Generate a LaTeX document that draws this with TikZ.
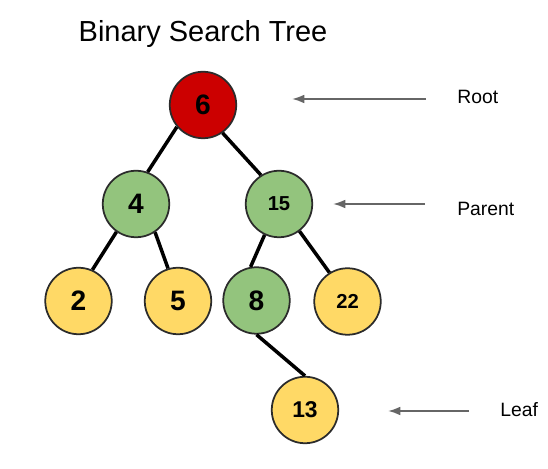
\documentclass[tikz,border=0pt]{standalone}
\usepackage{fontspec}
\setmainfont{Liberation Sans}
\usetikzlibrary{arrows.meta}

\definecolor{rootred}{HTML}{CC0000}
\definecolor{innergreen}{HTML}{93C47D}
\definecolor{leafyellow}{HTML}{FFD966}
\definecolor{rimgray}{HTML}{2B2B2B}
\definecolor{pointergray}{HTML}{666666}

\begin{document}
\begin{tikzpicture}[x=0.02cm, y=-0.02cm,
    vertex/.style={circle, draw=rimgray, line width=1pt, minimum size=1.33cm, inner sep=0pt, font=\bfseries\fontsize{16}{16}\selectfont},
    smalldigits/.style={font=\bfseries\fontsize{11.5}{11.5}\selectfont},
    branch/.style={line width=2pt},
    pointer/.style={draw=pointergray, line width=1.1pt, -{Latex[length=7pt,width=5pt]}},
    sidelabel/.style={anchor=base west, inner sep=0pt, font=\fontsize{11}{11}\selectfont}]
        \useasboundingbox (0, 0) rectangle (548, 469);
        \node[anchor=base, inner sep=0pt, font=\fontsize{16.5}{16.5}\selectfont] (title) at (203, 42) {Binary Search Tree};

        \node[vertex, fill=rootred] (n6) at (203, 105) {6};
        \node[vertex, fill=innergreen] (n4) at (136, 204) {4};
        \node[vertex, fill=innergreen, smalldigits] (n15) at (279, 204) {15};
        \node[vertex, fill=leafyellow] (n2) at (78.5, 301) {2};
        \node[vertex, fill=leafyellow] (n5) at (178, 301) {5};
        \node[vertex, fill=innergreen] (n8) at (256.5, 300.5) {8};
        \node[vertex, fill=leafyellow, smalldigits] (n22) at (347.5, 301.5) {22};
        \node[vertex, fill=leafyellow, font=\bfseries\fontsize{13}{13}\selectfont] (n13) at (305, 410) {13};

        \draw[branch] (n6.220) -- (n4.70);
        \draw[branch] (n6.305) -- (n15.122);
        \draw[branch] (n4.235) -- (n2.66);
        \draw[branch] (n4.304) -- (n5.107);
        \draw[branch] (n15.245) -- (n8.100);
        \draw[branch] (n15.307) -- (n22.122);
        \draw[branch] (n8.south) -- (n13.north);

        \node[sidelabel] (rootlbl) at (457, 104) {Root};
        \node[sidelabel] (parentlbl) at (457, 216) {Parent};
        \node[sidelabel] (leaflbl) at (500, 417) {Leaf};
        \coordinate (roottail) at (426, 99);
        \coordinate (roothead) at (292, 99);
        \coordinate (parenttail) at (425, 204);
        \coordinate (parenthead) at (333, 204);
        \coordinate (leaftail) at (469, 411);
        \coordinate (leafhead) at (388, 411);
        \draw[pointer] (roottail) -- (roothead);
        \draw[pointer] (parenttail) -- (parenthead);
        \draw[pointer] (leaftail) -- (leafhead);
\end{tikzpicture}
\end{document}
